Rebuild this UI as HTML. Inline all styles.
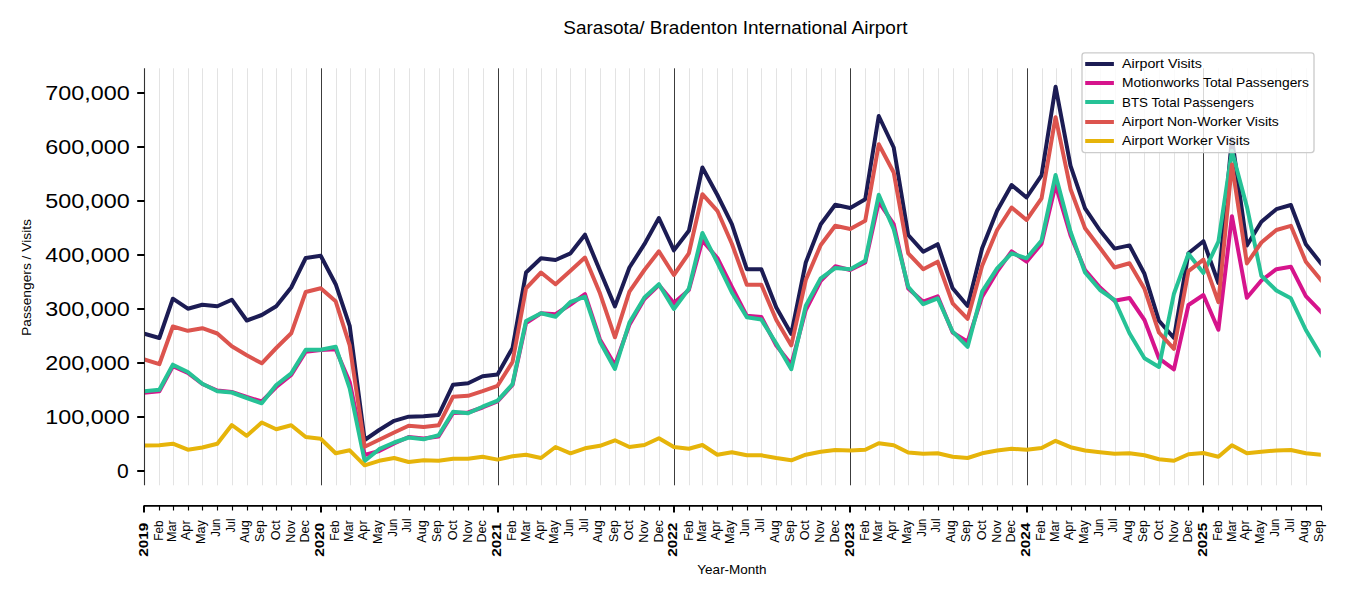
<!DOCTYPE html>
<html><head><meta charset="utf-8"><title>Sarasota/ Bradenton International Airport</title>
<style>html,body{margin:0;padding:0;background:#fff}body{width:1350px;height:600px;overflow:hidden}svg{display:block}text{font-family:"Liberation Sans",sans-serif;fill:#000}</style></head><body>
<svg width="1350" height="600" viewBox="0 0 1350 600">
<rect width="1350" height="600" fill="#fff"/>
<path d="M159.5 68.3V485.3M173.5 68.3V485.3M188.5 68.3V485.3M202.5 68.3V485.3M217.5 68.3V485.3M232.5 68.3V485.3M247.5 68.3V485.3M262.5 68.3V485.3M276.5 68.3V485.3M291.5 68.3V485.3M306.5 68.3V485.3M336.5 68.3V485.3M350.5 68.3V485.3M365.5 68.3V485.3M379.5 68.3V485.3M394.5 68.3V485.3M409.5 68.3V485.3M424.5 68.3V485.3M439.5 68.3V485.3M453.5 68.3V485.3M468.5 68.3V485.3M483.5 68.3V485.3M513.5 68.3V485.3M526.5 68.3V485.3M541.5 68.3V485.3M556.5 68.3V485.3M570.5 68.3V485.3M585.5 68.3V485.3M600.5 68.3V485.3M615.5 68.3V485.3M629.5 68.3V485.3M644.5 68.3V485.3M659.5 68.3V485.3M689.5 68.3V485.3M702.5 68.3V485.3M717.5 68.3V485.3M732.5 68.3V485.3M747.5 68.3V485.3M761.5 68.3V485.3M776.5 68.3V485.3M791.5 68.3V485.3M806.5 68.3V485.3M821.5 68.3V485.3M835.5 68.3V485.3M865.5 68.3V485.3M879.5 68.3V485.3M894.5 68.3V485.3M908.5 68.3V485.3M923.5 68.3V485.3M938.5 68.3V485.3M953.5 68.3V485.3M968.5 68.3V485.3M982.5 68.3V485.3M997.5 68.3V485.3M1012.5 68.3V485.3M1042.5 68.3V485.3M1056.5 68.3V485.3M1071.5 68.3V485.3M1085.5 68.3V485.3M1100.5 68.3V485.3M1115.5 68.3V485.3M1129.5 68.3V485.3M1144.5 68.3V485.3M1159.5 68.3V485.3M1174.5 68.3V485.3M1188.5 68.3V485.3M1218.5 68.3V485.3M1232.5 68.3V485.3M1247.5 68.3V485.3M1261.5 68.3V485.3M1276.5 68.3V485.3M1291.5 68.3V485.3M1306.5 68.3V485.3" stroke="#e3e3e3" stroke-width="1" fill="none"/>
<path d="M321.5 68.3V485.3M498.5 68.3V485.3M674.5 68.3V485.3M850.5 68.3V485.3M1027.5 68.3V485.3M1203.5 68.3V485.3" stroke="#3c3c3c" stroke-width="1" fill="none"/>
<clipPath id="ax"><rect x="144.35" y="68.3" width="1176.47" height="417.0"/></clipPath><g clip-path="url(#ax)">
<polyline points="144.35,333.7 159.33,338.0 172.86,298.7 187.83,308.7 202.33,304.7 217.31,306.2 231.80,299.7 246.78,320.5 261.76,315.0 276.25,306.3 291.23,287.5 305.72,258.0 320.70,255.8 335.68,284.2 349.69,325.8 364.67,440.0 379.16,430.0 394.14,420.8 408.63,416.7 423.61,416.2 438.59,415.0 453.08,384.7 468.06,383.3 482.56,376.3 497.53,374.4 512.51,348.0 526.04,272.5 541.02,258.3 555.51,260.0 570.49,253.3 584.98,234.7 599.96,270.8 614.94,306.4 629.43,267.5 644.41,244.2 658.90,218.0 673.88,250.4 688.86,230.8 702.39,167.5 717.37,195.0 731.86,224.2 746.84,269.2 761.33,269.2 776.31,307.5 791.29,334.0 805.78,262.5 820.76,224.2 835.25,204.7 850.23,208.0 865.21,199.2 878.74,116.0 893.72,147.5 908.21,235.0 923.19,251.7 937.68,244.2 952.66,288.3 967.64,306.0 982.13,248.3 997.11,210.8 1011.60,185.0 1026.58,197.5 1041.56,175.4 1055.57,86.7 1070.55,165.8 1085.04,208.3 1100.02,230.5 1114.52,248.6 1129.49,245.4 1144.47,273.8 1158.96,320.8 1173.94,338.0 1188.44,253.3 1203.41,241.2 1218.39,283.0 1231.92,138.4 1246.90,245.5 1261.39,221.7 1276.37,209.2 1290.86,205.0 1305.84,244.2 1320.82,263.3" fill="none" stroke="#1c1c54" stroke-width="4.0" stroke-linejoin="round" stroke-linecap="square"/>
<polyline points="144.35,392.8 159.33,391.3 172.86,366.2 187.83,373.0 202.33,384.0 217.31,390.5 231.80,392.0 246.78,397.0 261.76,401.5 276.25,387.0 291.23,375.0 305.72,351.7 320.70,350.0 335.68,349.2 349.69,382.0 364.67,455.0 379.16,451.0 394.14,443.5 408.63,437.0 423.61,438.5 438.59,436.5 453.08,413.0 468.06,412.5 482.56,407.5 497.53,401.5 512.51,385.0 526.04,323.0 541.02,313.3 555.51,314.2 570.49,304.5 584.98,294.2 599.96,339.5 614.94,365.0 629.43,324.7 644.41,299.0 658.90,285.0 673.88,303.0 688.86,290.0 702.39,240.5 717.37,258.0 731.86,287.0 746.84,315.8 761.33,317.0 776.31,345.5 791.29,364.5 805.78,310.0 820.76,280.8 835.25,266.3 850.23,270.0 865.21,262.5 878.74,202.0 893.72,224.2 908.21,288.5 923.19,301.7 937.68,296.3 952.66,332.5 967.64,341.7 982.13,296.7 997.11,271.7 1011.60,251.3 1026.58,261.7 1041.56,243.6 1055.57,185.0 1070.55,235.4 1085.04,270.0 1100.02,287.5 1114.52,300.8 1129.49,298.0 1144.47,320.0 1158.96,358.3 1173.94,369.4 1188.44,305.0 1203.41,295.0 1218.39,329.8 1231.92,216.2 1246.90,297.8 1261.39,280.5 1276.37,269.2 1290.86,266.7 1305.84,296.2 1320.82,311.7" fill="none" stroke="#d6148c" stroke-width="4.0" stroke-linejoin="round" stroke-linecap="square"/>
<polyline points="144.35,391.3 159.33,389.7 172.86,364.7 187.83,372.0 202.33,383.8 217.31,391.3 231.80,392.5 246.78,398.0 261.76,403.3 276.25,385.0 291.23,373.3 305.72,349.7 320.70,349.7 335.68,346.7 349.69,388.3 364.67,461.0 379.16,449.2 394.14,442.5 408.63,437.5 423.61,439.2 438.59,435.3 453.08,411.7 468.06,413.3 482.56,406.7 497.53,400.7 512.51,384.2 526.04,321.0 541.02,313.3 555.51,316.7 570.49,302.0 584.98,296.7 599.96,341.7 614.94,369.0 629.43,322.5 644.41,297.5 658.90,284.2 673.88,309.0 688.86,288.8 702.39,233.0 717.37,262.5 731.86,292.5 746.84,317.3 761.33,319.6 776.31,343.5 791.29,369.2 805.78,305.8 820.76,278.3 835.25,268.0 850.23,269.2 865.21,260.8 878.74,194.8 893.72,229.2 908.21,286.7 923.19,304.2 937.68,298.3 952.66,331.7 967.64,346.8 982.13,291.7 997.11,268.3 1011.60,253.3 1026.58,258.3 1041.56,240.5 1055.57,175.0 1070.55,231.7 1085.04,272.5 1100.02,290.0 1114.52,300.0 1129.49,333.3 1144.47,358.3 1158.96,367.0 1173.94,293.7 1188.44,253.8 1203.41,273.0 1218.39,241.7 1231.92,151.0 1246.90,206.7 1261.39,275.8 1276.37,290.5 1290.86,298.3 1305.84,330.0 1320.82,355.0" fill="none" stroke="#26c296" stroke-width="4.0" stroke-linejoin="round" stroke-linecap="square"/>
<polyline points="144.35,359.5 159.33,364.2 172.86,326.5 187.83,330.8 202.33,328.2 217.31,333.5 231.80,346.3 246.78,355.3 261.76,363.3 276.25,348.0 291.23,333.3 305.72,292.0 320.70,288.3 335.68,301.3 349.69,345.4 364.67,446.7 379.16,439.7 394.14,432.5 408.63,425.8 423.61,427.0 438.59,425.3 453.08,396.7 468.06,395.8 482.56,391.2 497.53,385.8 512.51,362.0 526.04,288.3 541.02,272.5 555.51,284.2 570.49,270.8 584.98,257.5 599.96,293.3 614.94,337.3 629.43,291.7 644.41,270.0 658.90,251.3 673.88,275.0 688.86,253.3 702.39,194.2 717.37,210.8 731.86,243.8 746.84,284.7 761.33,284.7 776.31,320.0 791.29,345.4 805.78,280.0 820.76,245.0 835.25,225.8 850.23,229.0 865.21,220.8 878.74,144.3 893.72,172.5 908.21,253.3 923.19,269.2 937.68,261.7 952.66,303.3 967.64,318.8 982.13,265.8 997.11,230.0 1011.60,207.5 1026.58,220.0 1041.56,198.3 1055.57,117.2 1070.55,189.2 1085.04,228.3 1100.02,248.0 1114.52,267.5 1129.49,263.3 1144.47,288.8 1158.96,332.5 1173.94,348.8 1188.44,271.2 1203.41,259.6 1218.39,302.2 1231.92,164.5 1246.90,263.4 1261.39,242.5 1276.37,230.0 1290.86,225.8 1305.84,261.7 1320.82,280.0" fill="none" stroke="#dc544e" stroke-width="4.0" stroke-linejoin="round" stroke-linecap="square"/>
<polyline points="144.35,445.5 159.33,445.3 172.86,443.7 187.83,449.7 202.33,447.5 217.31,443.7 231.80,425.0 246.78,435.8 261.76,422.5 276.25,429.2 291.23,425.3 305.72,437.0 320.70,438.7 335.68,453.3 349.69,450.3 364.67,465.3 379.16,460.8 394.14,458.0 408.63,462.0 423.61,460.3 438.59,460.8 453.08,458.8 468.06,458.8 482.56,456.7 497.53,459.6 512.51,456.3 526.04,454.8 541.02,458.0 555.51,447.0 570.49,453.3 584.98,448.3 599.96,445.8 614.94,440.3 629.43,447.0 644.41,445.0 658.90,438.3 673.88,447.0 688.86,448.8 702.39,445.0 717.37,454.7 731.86,452.2 746.84,455.3 761.33,455.3 776.31,458.0 791.29,460.3 805.78,454.7 820.76,451.7 835.25,450.0 850.23,450.5 865.21,449.7 878.74,443.3 893.72,445.3 908.21,452.5 923.19,453.7 937.68,453.3 952.66,456.7 967.64,458.0 982.13,453.3 997.11,450.5 1011.60,448.8 1026.58,449.7 1041.56,448.0 1055.57,440.8 1070.55,447.2 1085.04,450.5 1100.02,452.2 1114.52,453.7 1129.49,453.3 1144.47,455.3 1158.96,459.2 1173.94,460.8 1188.44,454.2 1203.41,453.0 1218.39,456.7 1231.92,445.3 1246.90,453.3 1261.39,451.7 1276.37,450.5 1290.86,450.0 1305.84,453.3 1320.82,454.7" fill="none" stroke="#e6b40a" stroke-width="4.0" stroke-linejoin="round" stroke-linecap="square"/>
</g>
<path d="M144.5 68.3V485.3" stroke="#333" stroke-width="1.1" fill="none"/>
<path d="M137.2 471H144.5" stroke="#000" stroke-width="2" fill="none"/>
<text x="116.98" y="478.45" font-size="21.10">0</text>
<path d="M137.2 417H144.5" stroke="#000" stroke-width="2" fill="none"/>
<text x="45.34" y="424.45" font-size="21.10" textLength="84.36" lengthAdjust="spacingAndGlyphs">100,000</text>
<path d="M137.2 363H144.5" stroke="#000" stroke-width="2" fill="none"/>
<text x="45.34" y="370.45" font-size="21.10" textLength="84.36" lengthAdjust="spacingAndGlyphs">200,000</text>
<path d="M137.2 309H144.5" stroke="#000" stroke-width="2" fill="none"/>
<text x="45.34" y="316.45" font-size="21.10" textLength="84.36" lengthAdjust="spacingAndGlyphs">300,000</text>
<path d="M137.2 255H144.5" stroke="#000" stroke-width="2" fill="none"/>
<text x="45.34" y="262.45" font-size="21.10" textLength="84.36" lengthAdjust="spacingAndGlyphs">400,000</text>
<path d="M137.2 201H144.5" stroke="#000" stroke-width="2" fill="none"/>
<text x="45.34" y="208.45" font-size="21.10" textLength="84.36" lengthAdjust="spacingAndGlyphs">500,000</text>
<path d="M137.2 147H144.5" stroke="#000" stroke-width="2" fill="none"/>
<text x="45.34" y="154.45" font-size="21.10" textLength="84.36" lengthAdjust="spacingAndGlyphs">600,000</text>
<path d="M137.2 93H144.5" stroke="#000" stroke-width="2" fill="none"/>
<text x="45.34" y="100.45" font-size="21.10" textLength="84.36" lengthAdjust="spacingAndGlyphs">700,000</text>
<path d="M143.60 505.8H1321.72" stroke="#000" stroke-width="1.7" fill="none"/>
<path d="M144 505.8V512.6" stroke="#000" stroke-width="2" fill="none"/>
<text transform="translate(147.92 522.70) rotate(-90)" x="-33.95" y="0" font-size="12.87" font-weight="bold" textLength="33.95" lengthAdjust="spacingAndGlyphs">2019</text>
<path d="M159.5 505.8V510.5" stroke="#000" stroke-width="1.15" fill="none"/>
<text transform="translate(163.12 520.30) rotate(-90)" x="-20.36" y="0" font-size="12.13" textLength="20.36" lengthAdjust="spacingAndGlyphs">Feb</text>
<path d="M173.5 505.8V510.5" stroke="#000" stroke-width="1.15" fill="none"/>
<text transform="translate(176.47 520.30) rotate(-90)" x="-21.70" y="0" font-size="12.13" textLength="21.70" lengthAdjust="spacingAndGlyphs">Mar</text>
<path d="M188.5 505.8V510.5" stroke="#000" stroke-width="1.15" fill="none"/>
<text transform="translate(190.33 520.30) rotate(-90)" x="-19.89" y="0" font-size="12.13" textLength="19.89" lengthAdjust="spacingAndGlyphs">Apr</text>
<path d="M202.5 505.8V510.5" stroke="#000" stroke-width="1.15" fill="none"/>
<text transform="translate(204.82 520.30) rotate(-90)" x="-23.77" y="0" font-size="12.13" textLength="23.77" lengthAdjust="spacingAndGlyphs">May</text>
<path d="M217.5 505.8V510.5" stroke="#000" stroke-width="1.15" fill="none"/>
<text transform="translate(219.85 518.70) rotate(-90)" x="-17.97" y="0" font-size="12.13" textLength="17.97" lengthAdjust="spacingAndGlyphs">Jun</text>
<path d="M232.5 505.8V510.5" stroke="#000" stroke-width="1.15" fill="none"/>
<text transform="translate(234.52 518.70) rotate(-90)" x="-13.88" y="0" font-size="12.13" textLength="13.88" lengthAdjust="spacingAndGlyphs">Jul</text>
<path d="M247.5 505.8V510.5" stroke="#000" stroke-width="1.15" fill="none"/>
<text transform="translate(249.27 520.30) rotate(-90)" x="-22.46" y="0" font-size="12.13" textLength="22.46" lengthAdjust="spacingAndGlyphs">Aug</text>
<path d="M262.5 505.8V510.5" stroke="#000" stroke-width="1.15" fill="none"/>
<text transform="translate(264.33 520.30) rotate(-90)" x="-21.67" y="0" font-size="12.13" textLength="21.67" lengthAdjust="spacingAndGlyphs">Sep</text>
<path d="M276.5 505.8V510.5" stroke="#000" stroke-width="1.15" fill="none"/>
<text transform="translate(279.94 520.30) rotate(-90)" x="-19.88" y="0" font-size="12.13" textLength="19.88" lengthAdjust="spacingAndGlyphs">Oct</text>
<path d="M291.5 505.8V510.5" stroke="#000" stroke-width="1.15" fill="none"/>
<text transform="translate(294.84 520.30) rotate(-90)" x="-22.44" y="0" font-size="12.13" textLength="22.44" lengthAdjust="spacingAndGlyphs">Nov</text>
<path d="M306.5 505.8V510.5" stroke="#000" stroke-width="1.15" fill="none"/>
<text transform="translate(309.33 520.30) rotate(-90)" x="-22.25" y="0" font-size="12.13" textLength="22.25" lengthAdjust="spacingAndGlyphs">Dec</text>
<path d="M321 505.8V512.6" stroke="#000" stroke-width="2" fill="none"/>
<text transform="translate(324.27 522.70) rotate(-90)" x="-33.95" y="0" font-size="12.87" font-weight="bold" textLength="33.95" lengthAdjust="spacingAndGlyphs">2020</text>
<path d="M336.5 505.8V510.5" stroke="#000" stroke-width="1.15" fill="none"/>
<text transform="translate(339.47 520.30) rotate(-90)" x="-20.36" y="0" font-size="12.13" textLength="20.36" lengthAdjust="spacingAndGlyphs">Feb</text>
<path d="M350.5 505.8V510.5" stroke="#000" stroke-width="1.15" fill="none"/>
<text transform="translate(353.30 520.30) rotate(-90)" x="-21.70" y="0" font-size="12.13" textLength="21.70" lengthAdjust="spacingAndGlyphs">Mar</text>
<path d="M365.5 505.8V510.5" stroke="#000" stroke-width="1.15" fill="none"/>
<text transform="translate(367.16 520.30) rotate(-90)" x="-19.89" y="0" font-size="12.13" textLength="19.89" lengthAdjust="spacingAndGlyphs">Apr</text>
<path d="M379.5 505.8V510.5" stroke="#000" stroke-width="1.15" fill="none"/>
<text transform="translate(381.66 520.30) rotate(-90)" x="-23.77" y="0" font-size="12.13" textLength="23.77" lengthAdjust="spacingAndGlyphs">May</text>
<path d="M394.5 505.8V510.5" stroke="#000" stroke-width="1.15" fill="none"/>
<text transform="translate(396.68 518.70) rotate(-90)" x="-17.97" y="0" font-size="12.13" textLength="17.97" lengthAdjust="spacingAndGlyphs">Jun</text>
<path d="M409.5 505.8V510.5" stroke="#000" stroke-width="1.15" fill="none"/>
<text transform="translate(411.35 518.70) rotate(-90)" x="-13.88" y="0" font-size="12.13" textLength="13.88" lengthAdjust="spacingAndGlyphs">Jul</text>
<path d="M424.5 505.8V510.5" stroke="#000" stroke-width="1.15" fill="none"/>
<text transform="translate(426.11 520.30) rotate(-90)" x="-22.46" y="0" font-size="12.13" textLength="22.46" lengthAdjust="spacingAndGlyphs">Aug</text>
<path d="M439.5 505.8V510.5" stroke="#000" stroke-width="1.15" fill="none"/>
<text transform="translate(441.16 520.30) rotate(-90)" x="-21.67" y="0" font-size="12.13" textLength="21.67" lengthAdjust="spacingAndGlyphs">Sep</text>
<path d="M453.5 505.8V510.5" stroke="#000" stroke-width="1.15" fill="none"/>
<text transform="translate(456.77 520.30) rotate(-90)" x="-19.88" y="0" font-size="12.13" textLength="19.88" lengthAdjust="spacingAndGlyphs">Oct</text>
<path d="M468.5 505.8V510.5" stroke="#000" stroke-width="1.15" fill="none"/>
<text transform="translate(471.67 520.30) rotate(-90)" x="-22.44" y="0" font-size="12.13" textLength="22.44" lengthAdjust="spacingAndGlyphs">Nov</text>
<path d="M483.5 505.8V510.5" stroke="#000" stroke-width="1.15" fill="none"/>
<text transform="translate(486.17 520.30) rotate(-90)" x="-22.25" y="0" font-size="12.13" textLength="22.25" lengthAdjust="spacingAndGlyphs">Dec</text>
<path d="M498 505.8V512.6" stroke="#000" stroke-width="2" fill="none"/>
<text transform="translate(501.10 522.70) rotate(-90)" x="-33.95" y="0" font-size="12.87" font-weight="bold" textLength="33.95" lengthAdjust="spacingAndGlyphs">2021</text>
<path d="M513.5 505.8V510.5" stroke="#000" stroke-width="1.15" fill="none"/>
<text transform="translate(516.30 520.30) rotate(-90)" x="-20.36" y="0" font-size="12.13" textLength="20.36" lengthAdjust="spacingAndGlyphs">Feb</text>
<path d="M526.5 505.8V510.5" stroke="#000" stroke-width="1.15" fill="none"/>
<text transform="translate(529.65 520.30) rotate(-90)" x="-21.70" y="0" font-size="12.13" textLength="21.70" lengthAdjust="spacingAndGlyphs">Mar</text>
<path d="M541.5 505.8V510.5" stroke="#000" stroke-width="1.15" fill="none"/>
<text transform="translate(543.51 520.30) rotate(-90)" x="-19.89" y="0" font-size="12.13" textLength="19.89" lengthAdjust="spacingAndGlyphs">Apr</text>
<path d="M556.5 505.8V510.5" stroke="#000" stroke-width="1.15" fill="none"/>
<text transform="translate(558.01 520.30) rotate(-90)" x="-23.77" y="0" font-size="12.13" textLength="23.77" lengthAdjust="spacingAndGlyphs">May</text>
<path d="M570.5 505.8V510.5" stroke="#000" stroke-width="1.15" fill="none"/>
<text transform="translate(573.03 518.70) rotate(-90)" x="-17.97" y="0" font-size="12.13" textLength="17.97" lengthAdjust="spacingAndGlyphs">Jun</text>
<path d="M585.5 505.8V510.5" stroke="#000" stroke-width="1.15" fill="none"/>
<text transform="translate(587.70 518.70) rotate(-90)" x="-13.88" y="0" font-size="12.13" textLength="13.88" lengthAdjust="spacingAndGlyphs">Jul</text>
<path d="M600.5 505.8V510.5" stroke="#000" stroke-width="1.15" fill="none"/>
<text transform="translate(602.46 520.30) rotate(-90)" x="-22.46" y="0" font-size="12.13" textLength="22.46" lengthAdjust="spacingAndGlyphs">Aug</text>
<path d="M615.5 505.8V510.5" stroke="#000" stroke-width="1.15" fill="none"/>
<text transform="translate(617.51 520.30) rotate(-90)" x="-21.67" y="0" font-size="12.13" textLength="21.67" lengthAdjust="spacingAndGlyphs">Sep</text>
<path d="M629.5 505.8V510.5" stroke="#000" stroke-width="1.15" fill="none"/>
<text transform="translate(633.12 520.30) rotate(-90)" x="-19.88" y="0" font-size="12.13" textLength="19.88" lengthAdjust="spacingAndGlyphs">Oct</text>
<path d="M644.5 505.8V510.5" stroke="#000" stroke-width="1.15" fill="none"/>
<text transform="translate(648.02 520.30) rotate(-90)" x="-22.44" y="0" font-size="12.13" textLength="22.44" lengthAdjust="spacingAndGlyphs">Nov</text>
<path d="M659.5 505.8V510.5" stroke="#000" stroke-width="1.15" fill="none"/>
<text transform="translate(662.52 520.30) rotate(-90)" x="-22.25" y="0" font-size="12.13" textLength="22.25" lengthAdjust="spacingAndGlyphs">Dec</text>
<path d="M674 505.8V512.6" stroke="#000" stroke-width="2" fill="none"/>
<text transform="translate(677.45 522.70) rotate(-90)" x="-33.95" y="0" font-size="12.87" font-weight="bold" textLength="33.95" lengthAdjust="spacingAndGlyphs">2022</text>
<path d="M689.5 505.8V510.5" stroke="#000" stroke-width="1.15" fill="none"/>
<text transform="translate(692.65 520.30) rotate(-90)" x="-20.36" y="0" font-size="12.13" textLength="20.36" lengthAdjust="spacingAndGlyphs">Feb</text>
<path d="M702.5 505.8V510.5" stroke="#000" stroke-width="1.15" fill="none"/>
<text transform="translate(706.00 520.30) rotate(-90)" x="-21.70" y="0" font-size="12.13" textLength="21.70" lengthAdjust="spacingAndGlyphs">Mar</text>
<path d="M717.5 505.8V510.5" stroke="#000" stroke-width="1.15" fill="none"/>
<text transform="translate(719.86 520.30) rotate(-90)" x="-19.89" y="0" font-size="12.13" textLength="19.89" lengthAdjust="spacingAndGlyphs">Apr</text>
<path d="M732.5 505.8V510.5" stroke="#000" stroke-width="1.15" fill="none"/>
<text transform="translate(734.36 520.30) rotate(-90)" x="-23.77" y="0" font-size="12.13" textLength="23.77" lengthAdjust="spacingAndGlyphs">May</text>
<path d="M747.5 505.8V510.5" stroke="#000" stroke-width="1.15" fill="none"/>
<text transform="translate(749.38 518.70) rotate(-90)" x="-17.97" y="0" font-size="12.13" textLength="17.97" lengthAdjust="spacingAndGlyphs">Jun</text>
<path d="M761.5 505.8V510.5" stroke="#000" stroke-width="1.15" fill="none"/>
<text transform="translate(764.05 518.70) rotate(-90)" x="-13.88" y="0" font-size="12.13" textLength="13.88" lengthAdjust="spacingAndGlyphs">Jul</text>
<path d="M776.5 505.8V510.5" stroke="#000" stroke-width="1.15" fill="none"/>
<text transform="translate(778.81 520.30) rotate(-90)" x="-22.46" y="0" font-size="12.13" textLength="22.46" lengthAdjust="spacingAndGlyphs">Aug</text>
<path d="M791.5 505.8V510.5" stroke="#000" stroke-width="1.15" fill="none"/>
<text transform="translate(793.86 520.30) rotate(-90)" x="-21.67" y="0" font-size="12.13" textLength="21.67" lengthAdjust="spacingAndGlyphs">Sep</text>
<path d="M806.5 505.8V510.5" stroke="#000" stroke-width="1.15" fill="none"/>
<text transform="translate(809.47 520.30) rotate(-90)" x="-19.88" y="0" font-size="12.13" textLength="19.88" lengthAdjust="spacingAndGlyphs">Oct</text>
<path d="M821.5 505.8V510.5" stroke="#000" stroke-width="1.15" fill="none"/>
<text transform="translate(824.37 520.30) rotate(-90)" x="-22.44" y="0" font-size="12.13" textLength="22.44" lengthAdjust="spacingAndGlyphs">Nov</text>
<path d="M835.5 505.8V510.5" stroke="#000" stroke-width="1.15" fill="none"/>
<text transform="translate(838.87 520.30) rotate(-90)" x="-22.25" y="0" font-size="12.13" textLength="22.25" lengthAdjust="spacingAndGlyphs">Dec</text>
<path d="M850 505.8V512.6" stroke="#000" stroke-width="2" fill="none"/>
<text transform="translate(853.80 522.70) rotate(-90)" x="-33.95" y="0" font-size="12.87" font-weight="bold" textLength="33.95" lengthAdjust="spacingAndGlyphs">2023</text>
<path d="M865.5 505.8V510.5" stroke="#000" stroke-width="1.15" fill="none"/>
<text transform="translate(869.00 520.30) rotate(-90)" x="-20.36" y="0" font-size="12.13" textLength="20.36" lengthAdjust="spacingAndGlyphs">Feb</text>
<path d="M879.5 505.8V510.5" stroke="#000" stroke-width="1.15" fill="none"/>
<text transform="translate(882.35 520.30) rotate(-90)" x="-21.70" y="0" font-size="12.13" textLength="21.70" lengthAdjust="spacingAndGlyphs">Mar</text>
<path d="M894.5 505.8V510.5" stroke="#000" stroke-width="1.15" fill="none"/>
<text transform="translate(896.21 520.30) rotate(-90)" x="-19.89" y="0" font-size="12.13" textLength="19.89" lengthAdjust="spacingAndGlyphs">Apr</text>
<path d="M908.5 505.8V510.5" stroke="#000" stroke-width="1.15" fill="none"/>
<text transform="translate(910.71 520.30) rotate(-90)" x="-23.77" y="0" font-size="12.13" textLength="23.77" lengthAdjust="spacingAndGlyphs">May</text>
<path d="M923.5 505.8V510.5" stroke="#000" stroke-width="1.15" fill="none"/>
<text transform="translate(925.73 518.70) rotate(-90)" x="-17.97" y="0" font-size="12.13" textLength="17.97" lengthAdjust="spacingAndGlyphs">Jun</text>
<path d="M938.5 505.8V510.5" stroke="#000" stroke-width="1.15" fill="none"/>
<text transform="translate(940.40 518.70) rotate(-90)" x="-13.88" y="0" font-size="12.13" textLength="13.88" lengthAdjust="spacingAndGlyphs">Jul</text>
<path d="M953.5 505.8V510.5" stroke="#000" stroke-width="1.15" fill="none"/>
<text transform="translate(955.16 520.30) rotate(-90)" x="-22.46" y="0" font-size="12.13" textLength="22.46" lengthAdjust="spacingAndGlyphs">Aug</text>
<path d="M968.5 505.8V510.5" stroke="#000" stroke-width="1.15" fill="none"/>
<text transform="translate(970.21 520.30) rotate(-90)" x="-21.67" y="0" font-size="12.13" textLength="21.67" lengthAdjust="spacingAndGlyphs">Sep</text>
<path d="M982.5 505.8V510.5" stroke="#000" stroke-width="1.15" fill="none"/>
<text transform="translate(985.82 520.30) rotate(-90)" x="-19.88" y="0" font-size="12.13" textLength="19.88" lengthAdjust="spacingAndGlyphs">Oct</text>
<path d="M997.5 505.8V510.5" stroke="#000" stroke-width="1.15" fill="none"/>
<text transform="translate(1000.72 520.30) rotate(-90)" x="-22.44" y="0" font-size="12.13" textLength="22.44" lengthAdjust="spacingAndGlyphs">Nov</text>
<path d="M1012.5 505.8V510.5" stroke="#000" stroke-width="1.15" fill="none"/>
<text transform="translate(1015.22 520.30) rotate(-90)" x="-22.25" y="0" font-size="12.13" textLength="22.25" lengthAdjust="spacingAndGlyphs">Dec</text>
<path d="M1027 505.8V512.6" stroke="#000" stroke-width="2" fill="none"/>
<text transform="translate(1030.15 522.70) rotate(-90)" x="-33.95" y="0" font-size="12.87" font-weight="bold" textLength="33.95" lengthAdjust="spacingAndGlyphs">2024</text>
<path d="M1042.5 505.8V510.5" stroke="#000" stroke-width="1.15" fill="none"/>
<text transform="translate(1045.35 520.30) rotate(-90)" x="-20.36" y="0" font-size="12.13" textLength="20.36" lengthAdjust="spacingAndGlyphs">Feb</text>
<path d="M1056.5 505.8V510.5" stroke="#000" stroke-width="1.15" fill="none"/>
<text transform="translate(1059.18 520.30) rotate(-90)" x="-21.70" y="0" font-size="12.13" textLength="21.70" lengthAdjust="spacingAndGlyphs">Mar</text>
<path d="M1071.5 505.8V510.5" stroke="#000" stroke-width="1.15" fill="none"/>
<text transform="translate(1073.04 520.30) rotate(-90)" x="-19.89" y="0" font-size="12.13" textLength="19.89" lengthAdjust="spacingAndGlyphs">Apr</text>
<path d="M1085.5 505.8V510.5" stroke="#000" stroke-width="1.15" fill="none"/>
<text transform="translate(1087.54 520.30) rotate(-90)" x="-23.77" y="0" font-size="12.13" textLength="23.77" lengthAdjust="spacingAndGlyphs">May</text>
<path d="M1100.5 505.8V510.5" stroke="#000" stroke-width="1.15" fill="none"/>
<text transform="translate(1102.56 518.70) rotate(-90)" x="-17.97" y="0" font-size="12.13" textLength="17.97" lengthAdjust="spacingAndGlyphs">Jun</text>
<path d="M1115.5 505.8V510.5" stroke="#000" stroke-width="1.15" fill="none"/>
<text transform="translate(1117.24 518.70) rotate(-90)" x="-13.88" y="0" font-size="12.13" textLength="13.88" lengthAdjust="spacingAndGlyphs">Jul</text>
<path d="M1129.5 505.8V510.5" stroke="#000" stroke-width="1.15" fill="none"/>
<text transform="translate(1131.99 520.30) rotate(-90)" x="-22.46" y="0" font-size="12.13" textLength="22.46" lengthAdjust="spacingAndGlyphs">Aug</text>
<path d="M1144.5 505.8V510.5" stroke="#000" stroke-width="1.15" fill="none"/>
<text transform="translate(1147.04 520.30) rotate(-90)" x="-21.67" y="0" font-size="12.13" textLength="21.67" lengthAdjust="spacingAndGlyphs">Sep</text>
<path d="M1159.5 505.8V510.5" stroke="#000" stroke-width="1.15" fill="none"/>
<text transform="translate(1162.65 520.30) rotate(-90)" x="-19.88" y="0" font-size="12.13" textLength="19.88" lengthAdjust="spacingAndGlyphs">Oct</text>
<path d="M1174.5 505.8V510.5" stroke="#000" stroke-width="1.15" fill="none"/>
<text transform="translate(1177.55 520.30) rotate(-90)" x="-22.44" y="0" font-size="12.13" textLength="22.44" lengthAdjust="spacingAndGlyphs">Nov</text>
<path d="M1188.5 505.8V510.5" stroke="#000" stroke-width="1.15" fill="none"/>
<text transform="translate(1192.05 520.30) rotate(-90)" x="-22.25" y="0" font-size="12.13" textLength="22.25" lengthAdjust="spacingAndGlyphs">Dec</text>
<path d="M1203 505.8V512.6" stroke="#000" stroke-width="2" fill="none"/>
<text transform="translate(1206.98 522.70) rotate(-90)" x="-33.95" y="0" font-size="12.87" font-weight="bold" textLength="33.95" lengthAdjust="spacingAndGlyphs">2025</text>
<path d="M1218.5 505.8V510.5" stroke="#000" stroke-width="1.15" fill="none"/>
<text transform="translate(1222.18 520.30) rotate(-90)" x="-20.36" y="0" font-size="12.13" textLength="20.36" lengthAdjust="spacingAndGlyphs">Feb</text>
<path d="M1232.5 505.8V510.5" stroke="#000" stroke-width="1.15" fill="none"/>
<text transform="translate(1235.53 520.30) rotate(-90)" x="-21.70" y="0" font-size="12.13" textLength="21.70" lengthAdjust="spacingAndGlyphs">Mar</text>
<path d="M1247.5 505.8V510.5" stroke="#000" stroke-width="1.15" fill="none"/>
<text transform="translate(1249.39 520.30) rotate(-90)" x="-19.89" y="0" font-size="12.13" textLength="19.89" lengthAdjust="spacingAndGlyphs">Apr</text>
<path d="M1261.5 505.8V510.5" stroke="#000" stroke-width="1.15" fill="none"/>
<text transform="translate(1263.89 520.30) rotate(-90)" x="-23.77" y="0" font-size="12.13" textLength="23.77" lengthAdjust="spacingAndGlyphs">May</text>
<path d="M1276.5 505.8V510.5" stroke="#000" stroke-width="1.15" fill="none"/>
<text transform="translate(1278.91 518.70) rotate(-90)" x="-17.97" y="0" font-size="12.13" textLength="17.97" lengthAdjust="spacingAndGlyphs">Jun</text>
<path d="M1291.5 505.8V510.5" stroke="#000" stroke-width="1.15" fill="none"/>
<text transform="translate(1293.58 518.70) rotate(-90)" x="-13.88" y="0" font-size="12.13" textLength="13.88" lengthAdjust="spacingAndGlyphs">Jul</text>
<path d="M1306.5 505.8V510.5" stroke="#000" stroke-width="1.15" fill="none"/>
<text transform="translate(1308.34 520.30) rotate(-90)" x="-22.46" y="0" font-size="12.13" textLength="22.46" lengthAdjust="spacingAndGlyphs">Aug</text>
<path d="M1321.5 505.8V510.5" stroke="#000" stroke-width="1.15" fill="none"/>
<text transform="translate(1323.39 520.30) rotate(-90)" x="-21.67" y="0" font-size="12.13" textLength="21.67" lengthAdjust="spacingAndGlyphs">Sep</text>
<text x="563.29" y="33.90" font-size="17.51" textLength="344.22" lengthAdjust="spacingAndGlyphs">Sarasota/ Bradenton International Airport</text>
<text x="697.37" y="573.70" font-size="12.98" textLength="69.27" lengthAdjust="spacingAndGlyphs">Year-Month</text>
<text transform="translate(31.00 277.50) rotate(-90)" x="-58.43" y="0" font-size="12.98" textLength="116.85" lengthAdjust="spacingAndGlyphs">Passengers / Visits</text>
<rect x="1082" y="52.9" width="232" height="99.7" rx="2.8" ry="2.8" fill="#fff" fill-opacity="0.8" stroke="#cccccc" stroke-width="1.35"/>
<path d="M1085.2 64.00H1113.9" stroke="#1c1c54" stroke-width="4.0" fill="none"/>
<text x="1122.00" y="68.20" font-size="13.19" textLength="79.91" lengthAdjust="spacingAndGlyphs">Airport Visits</text>
<path d="M1085.2 83.00H1113.9" stroke="#d6148c" stroke-width="4.0" fill="none"/>
<text x="1122.00" y="87.45" font-size="13.19" textLength="186.83" lengthAdjust="spacingAndGlyphs">Motionworks Total Passengers</text>
<path d="M1085.2 102.00H1113.9" stroke="#26c296" stroke-width="4.0" fill="none"/>
<text x="1122.00" y="106.70" font-size="13.19" textLength="131.84" lengthAdjust="spacingAndGlyphs">BTS Total Passengers</text>
<path d="M1085.2 122.00H1113.9" stroke="#dc544e" stroke-width="4.0" fill="none"/>
<text x="1122.00" y="125.95" font-size="13.19" textLength="156.84" lengthAdjust="spacingAndGlyphs">Airport Non-Worker Visits</text>
<path d="M1085.2 141.00H1113.9" stroke="#e6b40a" stroke-width="4.0" fill="none"/>
<text x="1122.00" y="145.20" font-size="13.19" textLength="127.92" lengthAdjust="spacingAndGlyphs">Airport Worker Visits</text>
</svg></body></html>
